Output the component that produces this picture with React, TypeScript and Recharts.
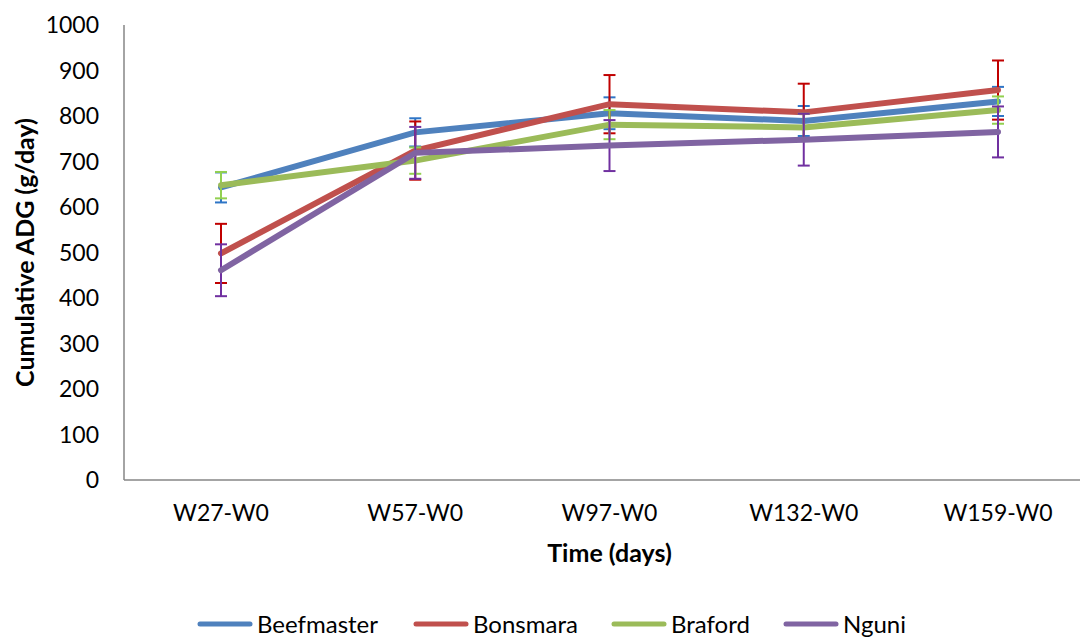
import { LineChart, Line, XAxis, YAxis, ErrorBar, Legend } from 'recharts';

const periods = ['W27-W0', 'W57-W0', 'W97-W0', 'W132-W0', 'W159-W0'];

const beefmaster = [643, 764, 806, 789, 832];
const beefmasterErr = [33, 31, 35, 33, 32];
const bonsmara = [498, 724, 826, 808, 857];
const bonsmaraErr = [65, 64, 64, 63, 65];
const braford = [648, 702, 781, 775, 813];
const brafordErr = [29, 29, 32, 30, 30];
const nguni = [461, 719, 735, 748, 765];
const nguniErr = [57, 57, 56, 57, 56];

const yTicks = [0, 100, 200, 300, 400, 500, 600, 700, 800, 900, 1000];

const series = [
  { key: 'Beefmaster', values: beefmaster, errs: beefmasterErr, color: '#4F81BD', errColor: '#2E75C6' },
  { key: 'Bonsmara', values: bonsmara, errs: bonsmaraErr, color: '#C0504D', errColor: '#C00000' },
  { key: 'Braford', values: braford, errs: brafordErr, color: '#9BBB59', errColor: '#92D050' },
  { key: 'Nguni', values: nguni, errs: nguniErr, color: '#8064A2', errColor: '#7030A0' },
];

const data = periods.map((period, i) => {
  const row: Record<string, string | number> = { period };
  series.forEach((s) => {
    row[s.key] = s.values[i];
    row[s.key + 'Err'] = s.errs[i];
  });
  return row;
});

const FONT = 'Lato, "Open Sans", sans-serif';
const legendStarts = [197, 413, 611, 783]; // left edge of each legend item

const YTitle = (props: any) => {
  const vb = props.viewBox || { x: 0, y: 25, width: 124, height: 455 };
  const cx = vb.x + 24;
  const cy = vb.y + vb.height / 2;
  return (
    <text
      x={cx}
      y={cy}
      transform={`rotate(-90 ${cx} ${cy})`}
      textAnchor="middle"
      dominantBaseline="central"
      fontFamily={FONT}
      fontWeight="bold"
      fontSize={25}
      fill="#000"
    >
      Cumulative ADG (g/day)
    </text>
  );
};

const XTitle = (props: any) => {
  const vb = props.viewBox || { x: 124, y: 480, width: 971, height: 136 };
  return (
    <text
      x={vb.x + vb.width / 2}
      y={vb.y + 82}
      textAnchor="middle"
      fontFamily={FONT}
      fontWeight="bold"
      fontSize={25}
      fill="#000"
    >
      Time (days)
    </text>
  );
};

const LegendBox = () => (
  <div style={{ position: 'relative', width: 1080, height: 22 }}>
    {series.map((s, i) => (
      <div
        key={s.key}
        style={{
          position: 'absolute',
          left: legendStarts[i],
          top: 0,
          height: 22,
          lineHeight: '22px',
          display: 'flex',
          alignItems: 'center',
          fontFamily: FONT,
          fontSize: 24,
          color: '#000',
          whiteSpace: 'nowrap',
        }}
      >
        <svg width={56} height={8} style={{ marginRight: 4 }}>
          <line x1={3} y1={4} x2={53} y2={4} stroke={s.color} strokeWidth={5} strokeLinecap="round" />
        </svg>
        {s.key}
      </div>
    ))}
  </div>
);

export default function App() {
  return (
    <div style={{ position: 'absolute', left: 0, top: 0, width: 1080, height: 638, overflow: 'hidden', background: '#fff' }}>
      <LineChart
        width={1100}
        height={638}
        data={data}
        margin={{ top: 25, right: 5, left: 0, bottom: 0 }}
      >
        <XAxis
          dataKey="period"
          padding={{ left: 97, right: 97 }}
          height={136}
          stroke="#868686"
          strokeWidth={1.5}
          tickLine={false}
          tickSize={0}
          tickMargin={25}
          tick={{ fontFamily: FONT, fontSize: 23, fill: '#000' }}
          label={<XTitle />}
        />
        <YAxis
          domain={[0, 1000]}
          ticks={yTicks}
          width={124}
          stroke="#868686"
          strokeWidth={1.5}
          tickLine={false}
          tickSize={0}
          tickMargin={25}
          tick={{ fontFamily: FONT, fontSize: 23, fill: '#000' }}
          label={<YTitle />}
        />
        <Legend
          verticalAlign="bottom"
          content={<LegendBox />}
          wrapperStyle={{ left: 0, bottom: 3, height: 22, width: 1080 }}
        />
        {series.map((s) => (
          <Line
            key={s.key}
            dataKey={s.key}
            name={s.key}
            stroke={s.color}
            strokeWidth={6}
            strokeLinecap="round"
            dot={false}
            activeDot={false}
            isAnimationActive={false}
          >
            <ErrorBar
              dataKey={s.key + 'Err'}
              direction="y"
              width={6}
              strokeWidth={2}
              stroke={s.errColor}
              isAnimationActive={false}
            />
          </Line>
        ))}
      </LineChart>
    </div>
  );
}
